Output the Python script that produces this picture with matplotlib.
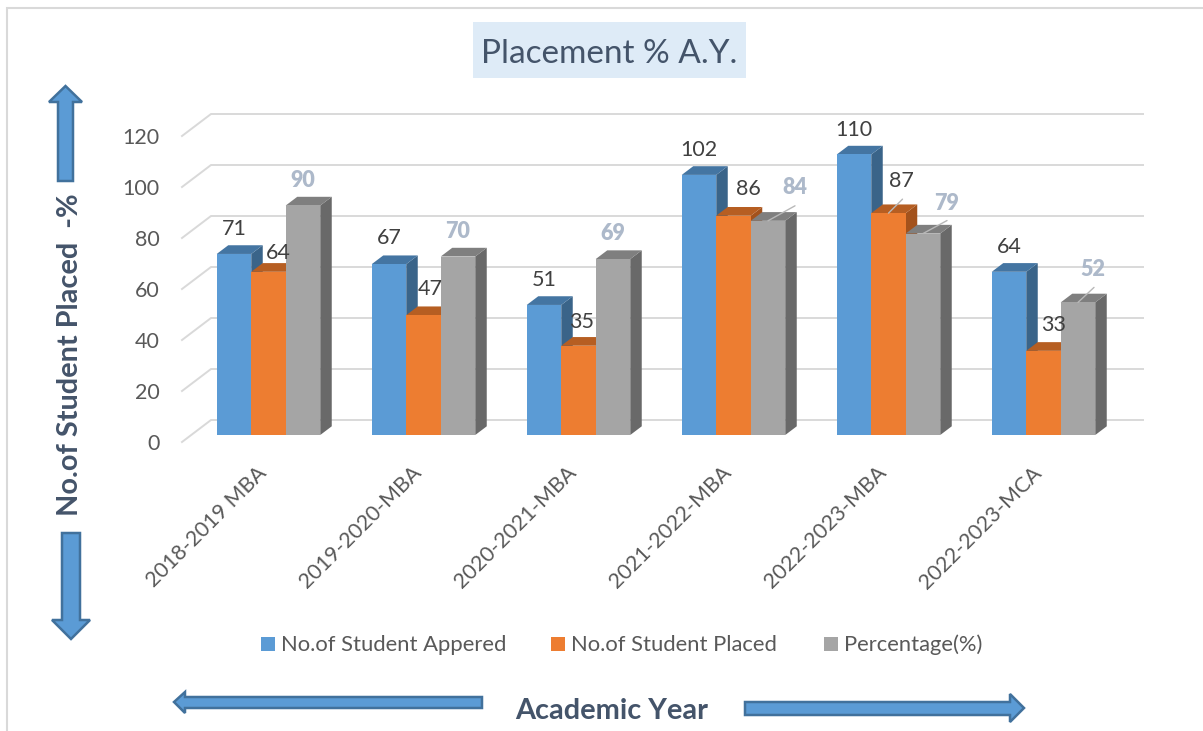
import matplotlib
matplotlib.use('Agg')
import matplotlib.pyplot as plt
from matplotlib.patches import Polygon, Rectangle
from matplotlib.transforms import ScaledTranslation

plt.rcParams['font.family'] = ['Lato', 'DejaVu Sans']

categories = ['2018-2019 MBA', '2019-2020-MBA', '2020-2021-MBA', '2021-2022-MBA', '2022-2023-MBA', '2022-2023-MCA']
appeared = [71, 67, 51, 102, 110, 64]
placed = [64, 47, 35, 86, 87, 33]
percentage = [90, 70, 69, 84, 79, 52]
series_names = ['No.of Student Appered', 'No.of Student Placed', 'Percentage(%)']
y_ticks = [0, 20, 40, 60, 80, 100, 120]

W, H = 1203, 731
dpi = 100
fig = plt.figure(figsize=(W / dpi, H / dpi), dpi=dpi, facecolor='white')

# background layer in pixel coords, for the frame, title box and arrows
bg = fig.add_axes([0, 0, 1, 1])
bg.set_xlim(0, W)
bg.set_ylim(H, 0)
bg.axis('off')

# plot area, pixel numbers
left, right, top, bottom = 182, 1143, 100, 450
y0_px = 435
px_per_unit = 2.55
pitch = 155
first_center = 268.5

ax = fig.add_axes([left / W, 1 - bottom / H, (right - left) / W, (bottom - top) / H])
ax.patch.set_alpha(0)
ax.set_xlim((left - first_center) / pitch, (right - first_center) / pitch)
ax.set_ylim((y0_px - bottom) / px_per_unit, (y0_px - top) / px_per_unit)
for s in ax.spines.values():
    s.set_visible(False)

bar_w = 34.5 / pitch
dx = 11.5 / pitch
dy = 8.7 / px_per_unit
wall_dx = 29 / pitch
wall_dy = 15 / px_per_unit
floor_dy = -7 / px_per_unit

# gridlines on the back wall and the side wall
for v in y_ticks:
    ax.plot([(left - first_center) / pitch, (left - first_center) / pitch + wall_dx, (right - first_center) / pitch],
            [v + floor_dy, v + wall_dy, v + wall_dy], color='#D9D9D9', lw=1.4, zorder=1, clip_on=False)

front = ['#5B9BD5', '#ED7D31', '#A5A5A5']
top_col = ['#4475A2', '#B65E22', '#7F7F7F']
side_col = ['#3A6489', '#A3521C', '#696969']
all_values = [appeared, placed, percentage]

for s, values in enumerate(all_values):
    for i, v in enumerate(values):
        x = i + (s - 1) * bar_w
        z = 2 + i * 10 + s * 2
        l, r = x - bar_w / 2, x + bar_w / 2
        ax.add_patch(Polygon([(r, 0), (r + dx, dy), (r + dx, v + dy), (r, v)], closed=True, fc=side_col[s], ec='none', zorder=z))
        ax.add_patch(Polygon([(l, v), (l + dx, v + dy), (r + dx, v + dy), (r, v)], closed=True, fc=top_col[s], ec='none', zorder=z))
        ax.bar(x, v, bar_w, color=front[s], zorder=z + 1, edgecolor='none')

# label offsets from the top centre of each bar, in pixels
label_off = [
    [(0, 25), (0, 26), (0, 25), (0, 25), (0, 25), (0, 25)],
    [(10, 19), (7, 26), (3, 24), (15, 27), (13, 32), (10, 26)],
    [(0, 25), (0, 25), (0, 26), (27, 33), (24, 30), (15, 33)],
]
label_col = ['#404040', '#404040', '#ADB9CA']
for s, values in enumerate(all_values):
    for i, v in enumerate(values):
        x = i + (s - 1) * bar_w
        ox, oy = label_off[s][i]
        ax.annotate(str(v), (x, v), xytext=(ox * 72 / dpi, oy * 72 / dpi), textcoords='offset points',
                    ha='center', va='center', fontsize=15.5, color=label_col[s],
                    fontweight='heavy' if s == 2 else 'normal', zorder=100, annotation_clip=False)

# leader lines seen on a few labels
leaders = [(3, 2, 27, 15), (4, 1, 14, 14), (4, 2, 24, 13), (5, 2, 16, 15)]
for i, s, ox, oy in leaders:
    x = i + (s - 1) * bar_w
    ax.annotate('', (x, all_values[s][i]), xytext=(ox * 72 / dpi, oy * 72 / dpi), textcoords='offset points',
                arrowprops=dict(arrowstyle='-', color='#B8B8B8', lw=1, shrinkA=0, shrinkB=0), zorder=99)

ax.set_yticks(y_ticks)
ax.set_yticklabels([str(v) for v in y_ticks])
ax.tick_params(axis='y', length=0, pad=16, labelsize=15.5, labelcolor='#595959')
ax.set_xticks(range(len(categories)))
ax.set_xticklabels(categories, rotation=45, ha='right', rotation_mode='anchor')
ax.tick_params(axis='x', length=0, pad=9, labelsize=15.4, labelcolor='#595959')
shift = ScaledTranslation(0, -7 / dpi, fig.dpi_scale_trans)
for lab in ax.get_yticklabels():
    lab.set_transform(lab.get_transform() + shift)
shift_x = ScaledTranslation(-12 / dpi, 0, fig.dpi_scale_trans)
for lab in ax.get_xticklabels():
    lab.set_transform(lab.get_transform() + shift_x)

# frame, only left and top are there
bg.plot([7, 7, W], [H, 8, 8], color='#D9D9D9', lw=1.5, solid_joinstyle='miter')

# title
bg.add_patch(Rectangle((473, 22), 273, 56, fc='#DEEBF7', ec='none'))
bg.text(609, 54, 'Placement % A.Y.', fontsize=24, color='#44546A', ha='center', va='center')

# axis titles
bg.text(70, 355, 'No.of Student Placed  -%', fontsize=20.8, fontweight='bold', color='#44546A',
        rotation=90, ha='center', va='center')
bg.text(612, 711, 'Academic Year', fontsize=20.8, fontweight='bold', color='#44546A', ha='center', va='center')

# block arrows
arrow_fc = '#5B9BD5'
arrow_ec = '#41719C'
arrows = [
    [(65.5, 86), (82, 102), (73, 102), (73, 181), (58, 181), (58, 102), (49, 102)],
    [(71, 639), (90, 620), (80, 620), (80, 533), (62, 533), (62, 620), (52, 620)],
    [(174, 702), (185, 692), (185, 697), (482, 697), (482, 708), (185, 708), (185, 713)],
    [(1024, 708), (1010, 694), (1010, 702), (745, 702), (745, 715), (1010, 715), (1010, 722)],
]
for pts in arrows:
    bg.add_patch(Polygon(pts, closed=True, fc=arrow_fc, ec=arrow_ec, lw=1.8, joinstyle='miter'))

# legend
legend_sq = [261, 551, 824]
for xs, c, name in zip(legend_sq, front, series_names):
    bg.add_patch(Rectangle((xs, 637), 14, 14, fc=c, ec='none'))
    bg.text(xs + 20, 645, name, fontsize=15.8, color='#595959', ha='left', va='center')

fig.savefig('out.png', dpi=dpi)
